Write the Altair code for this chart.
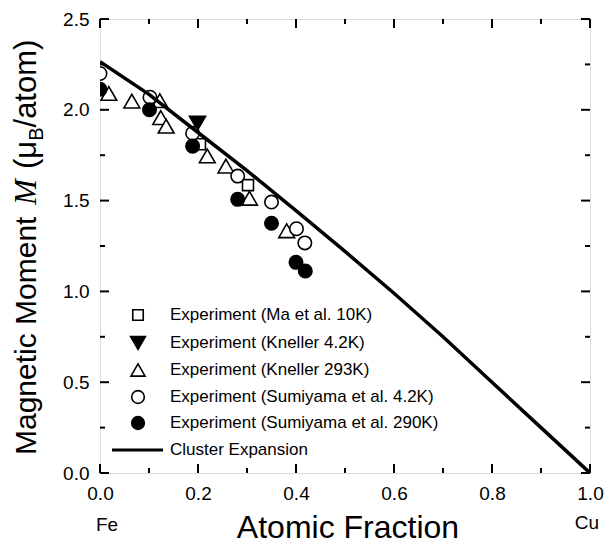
import altair as alt
import pandas as pd

# ---------------- data ----------------
ma_x = [0.204, 0.302]
ma_y = [1.81, 1.585]

kn42_x = [0.199]
kn42_y = [1.926]

kn293_x = [0.018, 0.065, 0.122, 0.124, 0.135, 0.219, 0.257, 0.305, 0.381]
kn293_y = [2.09, 2.048, 2.05, 1.957, 1.91, 1.746, 1.69, 1.513, 1.334]

sum42_x = [0.0, 0.102, 0.189, 0.281, 0.350, 0.401, 0.418]
sum42_y = [2.20, 2.069, 1.871, 1.635, 1.492, 1.345, 1.267]

sum290_x = [0.0, 0.101, 0.189, 0.281, 0.350, 0.400, 0.419]
sum290_y = [2.113, 2.00, 1.80, 1.507, 1.375, 1.16, 1.112]

ce_x = [0.0, 0.1, 0.2, 0.3, 0.4, 0.5, 0.6, 0.7, 0.8, 0.9, 1.0]
ce_y = [2.265, 2.085, 1.875, 1.665, 1.445, 1.22, 0.99, 0.75, 0.50, 0.25, 0.0]

x_major = [0.0, 0.2, 0.4, 0.6, 0.8, 1.0]
x_minor = [0.1, 0.3, 0.5, 0.7, 0.9]
y_major = [0.0, 0.5, 1.0, 1.5, 2.0, 2.5]
y_minor = [0.25, 0.75, 1.25, 1.75, 2.25]

legend_labels = [
    "Experiment (Ma et al. 10K)",
    "Experiment (Kneller 4.2K)",
    "Experiment (Kneller 293K)",
    "Experiment (Sumiyama et al. 4.2K)",
    "Experiment (Sumiyama et al. 290K)",
    "Cluster Expansion",
]
x_title = "Atomic Fraction"
y_title_parts = ["Magnetic Moment", "M", "(\u03bc", "B", "/atom)"]
end_labels = ["Fe", "Cu"]

# ---------------- layout ----------------
W, H = 490, 454
FONT = "Liberation Sans"
XS = alt.Scale(domain=[0, 1], nice=False, zero=False)
YS = alt.Scale(domain=[0, 2.5], nice=False, zero=False)

x_axis = alt.Axis(values=x_major, format=".1f", labelFont=FONT, labelFontSize=19,
                  labelColor="black", ticks=False, tickSize=0, domain=False, grid=False,
                  title=None, labelPadding=11, labelFlush=False)
y_axis = alt.Axis(values=y_major, format=".1f", labelFont=FONT, labelFontSize=19,
                  labelColor="black", ticks=False, tickSize=0, domain=False, grid=False,
                  title=None, labelPadding=11, labelFlush=False)


def ticks(vals, side, length):
    m = alt.Chart(pd.DataFrame({"v": vals})).mark_rule(color="black", strokeWidth=2)
    if side == "bottom":
        return m.encode(x=alt.X("v:Q", scale=XS, axis=x_axis), y=alt.value(H), y2=alt.value(H - length))
    if side == "top":
        return m.encode(x=alt.X("v:Q", scale=XS, axis=x_axis), y=alt.value(0), y2=alt.value(length))
    if side == "left":
        return m.encode(y=alt.Y("v:Q", scale=YS, axis=y_axis), x=alt.value(0), x2=alt.value(length))
    return m.encode(y=alt.Y("v:Q", scale=YS, axis=y_axis), x=alt.value(W), x2=alt.value(W - length))


def points(xs, ys, shape, size, filled):
    df = pd.DataFrame({"x": xs, "y": ys})
    return alt.Chart(df).mark_point(
        shape=shape, size=size, filled=True, fill="black" if filled else "white",
        stroke="black", strokeWidth=1.6, opacity=1, clip=True,
    ).encode(x=alt.X("x:Q", scale=XS, axis=x_axis), y=alt.Y("y:Q", scale=YS, axis=y_axis))


tick_layers = []
for side in ["bottom", "top"]:
    tick_layers.append(ticks(x_major, side, 9))
    tick_layers.append(ticks(x_minor, side, 5))
for side in ["left", "right"]:
    tick_layers.append(ticks(y_major, side, 9))
    tick_layers.append(ticks(y_minor, side, 5))

series_specs = [
    (ma_x, ma_y, "square", 121, False),
    (kn42_x, kn42_y, "triangle-down", 260, True),
    (kn293_x, kn293_y, "triangle-up", 250, False),
    (sum42_x, sum42_y, "circle", 180, False),
    (sum290_x, sum290_y, "circle", 180, True),
]
point_layers = [points(*s) for s in series_specs]

line = alt.Chart(pd.DataFrame({"x": ce_x, "y": ce_y})).mark_line(
    color="black", strokeWidth=3.5, clip=True
).encode(x=alt.X("x:Q", scale=XS, axis=x_axis), y=alt.Y("y:Q", scale=YS, axis=y_axis))

# ---------------- legend ----------------
row_y = [296, 324, 351, 378, 404, 431]
leg_sym = [("square", 110, False), ("triangle-down", 220, True), ("triangle-up", 200, False),
           ("circle", 160, False), ("circle", 160, True)]
legend_layers = []
for i, lab in enumerate(legend_labels):
    d = pd.DataFrame({"label": [lab]})
    if i < len(leg_sym):
        shp, sz, fl = leg_sym[i]
        legend_layers.append(alt.Chart(d).mark_point(
            shape=shp, size=sz, filled=True, fill="black" if fl else "white",
            stroke="black", strokeWidth=1.6, opacity=1
        ).encode(x=alt.value(38), y=alt.value(row_y[i])))
    else:
        legend_layers.append(alt.Chart(d).mark_rule(color="black", strokeWidth=3).encode(
            x=alt.value(12), x2=alt.value(63), y=alt.value(row_y[i])))
    legend_layers.append(alt.Chart(d).mark_text(
        align="left", baseline="middle", font=FONT, fontSize=17, color="black"
    ).encode(text="label:N", x=alt.value(70), y=alt.value(row_y[i])))

# ---------------- titles ----------------
def txt(s, x, y, size, angle=0, align="center", baseline="alphabetic", font=FONT, style="normal"):
    return alt.Chart(pd.DataFrame({"t": [s]})).mark_text(
        align=align, baseline=baseline, font=font, fontSize=size, fontStyle=style,
        color="black", angle=angle
    ).encode(text="t:N", x=alt.value(x), y=alt.value(y))

F = 30
F2 = 31
yb = -64
title_layers = [txt(x_title, 248, 519, 32)]
# y-title pieces (rotated, reading upward), start positions in plot coordinates
title_layers.append(txt(y_title_parts[0], yb, 436, F, angle=270, align="left"))
title_layers.append(txt(y_title_parts[1], yb, 186, 31, angle=270, align="left",
                        font="Liberation Serif", style="italic"))
p0 = 150
title_layers.append(txt(y_title_parts[2], yb, p0, F2, angle=270, align="left"))
title_layers.append(txt(y_title_parts[3], yb + 7, p0 - 0.909 * F2, 20, angle=270, align="left"))
title_layers.append(txt(y_title_parts[4], yb, p0 - 0.909 * F2 - 0.667 * 20, F2, angle=270, align="left"))

title_layers.append(txt(end_labels[0], 7, 512, 19))
title_layers.append(txt(end_labels[1], 487, 510, 19))

chart = alt.layer(
    *tick_layers, *point_layers, line, *legend_layers, *title_layers
).properties(
    width=W, height=H, autosize="none",
    padding={"left": 100, "top": 19, "right": 23, "bottom": 73},
).configure_view(stroke="black", strokeWidth=2).configure(background="white")

chart.save("out.html", embed_options={"renderer": "svg", "actions": False})
